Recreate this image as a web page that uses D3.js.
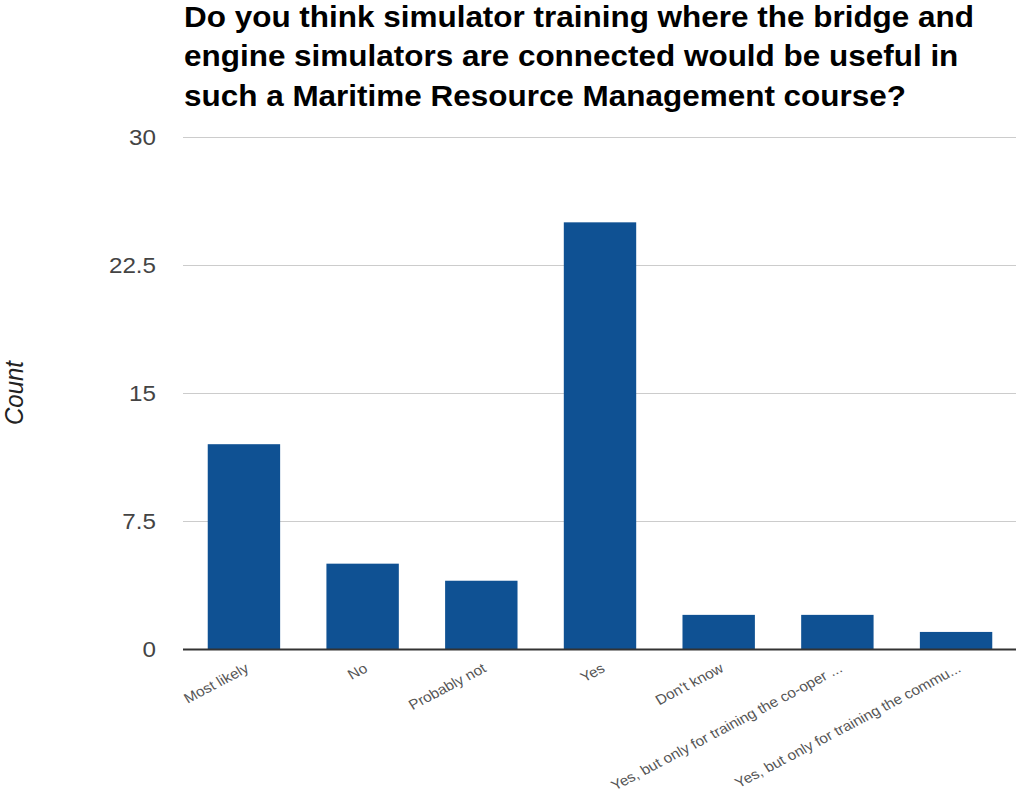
<!DOCTYPE html>
<html>
<head>
<meta charset="utf-8">
<script src="https://cdn.jsdelivr.net/npm/d3@7"></script>
<style>
  html, body { margin: 0; padding: 0; background: #fff; }
  svg { display: block; }
</style>
</head>
<body>
<svg id="chart" width="1018" height="807"></svg>
<script>
// Survey answers and response counts
const categories = [
  "Most likely",
  "No",
  "Probably not",
  "Yes",
  "Don't know",
  "Yes, but only for training the co-oper ...",
  "Yes, but only for training the commu..."
];
const counts = [12, 5, 4, 25, 2, 2, 1];
const yTicks = [0, 7.5, 15, 22.5, 30];
const titleLines = [
  "Do you think simulator training where the bridge and",
  "engine simulators are connected would be useful in",
  "such a Maritime Resource Management course?"
];

const FONT = "Liberation Sans, Arial, Helvetica, sans-serif";
const SX = 1.1; // horizontal text widening used throughout the chart

const svg = d3.select("#chart");
const margin = { left: 184, right: 2, top: 137, bottom: 158 };
const W = 1018, H = 807;
const plotBottom = H - margin.bottom;

const x = d3.scaleBand()
  .domain(categories)
  .range([margin.left, W - margin.right])
  .paddingInner(0.39)
  .paddingOuter(0.2);

const y = d3.scaleLinear()
  .domain([0, 30])
  .range([plotBottom, margin.top]);

// Title
const title = svg.append("text")
  .attr("transform", `translate(184, 27) scale(${1.085}, 1)`)
  .attr("font-family", FONT)
  .attr("font-weight", "bold")
  .attr("font-size", 29)
  .attr("fill", "#000");
titleLines.forEach((line, i) => {
  title.append("tspan").attr("x", 0).attr("y", i * 39.5).text(line);
});

// Gridlines
svg.append("g")
  .selectAll("line")
  .data(yTicks.filter(d => d !== 0))
  .join("line")
  .attr("x1", margin.left - 1)
  .attr("x2", W - margin.right)
  .attr("y1", d => y(d) + 0.5)
  .attr("y2", d => y(d) + 0.5)
  .attr("stroke", "#cccccc")
  .attr("stroke-width", 1);

// Y tick labels
svg.append("g")
  .selectAll("text")
  .data(yTicks)
  .join("text")
  .attr("transform", d => `translate(156, ${y(d)}) scale(${SX}, 1)`)
  .attr("dy", "0.36em")
  .attr("text-anchor", "end")
  .attr("font-family", FONT)
  .attr("font-size", 22)
  .attr("fill", "#444")
  .text(d => d);

// Y axis title
svg.append("text")
  .attr("transform", `translate(23, ${(margin.top + plotBottom) / 2}) scale(${SX}, 1) rotate(-90)`)
  .attr("text-anchor", "middle")
  .attr("font-family", FONT)
  .attr("font-style", "italic")
  .attr("font-size", 24)
  .attr("fill", "#222")
  .text("Count");

// Bars
svg.append("g")
  .selectAll("rect")
  .data(categories)
  .join("rect")
  .attr("x", d => x(d))
  .attr("width", x.bandwidth())
  .attr("y", (d, i) => y(counts[i]))
  .attr("height", (d, i) => plotBottom - y(counts[i]))
  .attr("fill", "#0f5193");

// Baseline
svg.append("line")
  .attr("x1", margin.left - 1)
  .attr("x2", W - margin.right)
  .attr("y1", plotBottom + 0.5)
  .attr("y2", plotBottom + 0.5)
  .attr("stroke", "#333")
  .attr("stroke-width", 2);

// Slanted category labels
svg.append("g")
  .selectAll("text")
  .data(categories)
  .join("text")
  .attr("transform", d => `translate(${x(d) + x.bandwidth() / 2 + 6}, ${plotBottom + 22}) scale(${SX}, 1) rotate(-30)`)
  .attr("text-anchor", "end")
  .attr("font-family", FONT)
  .attr("font-size", 14)
  .attr("fill", "#555")
  .text(d => d);
</script>
</body>
</html>
